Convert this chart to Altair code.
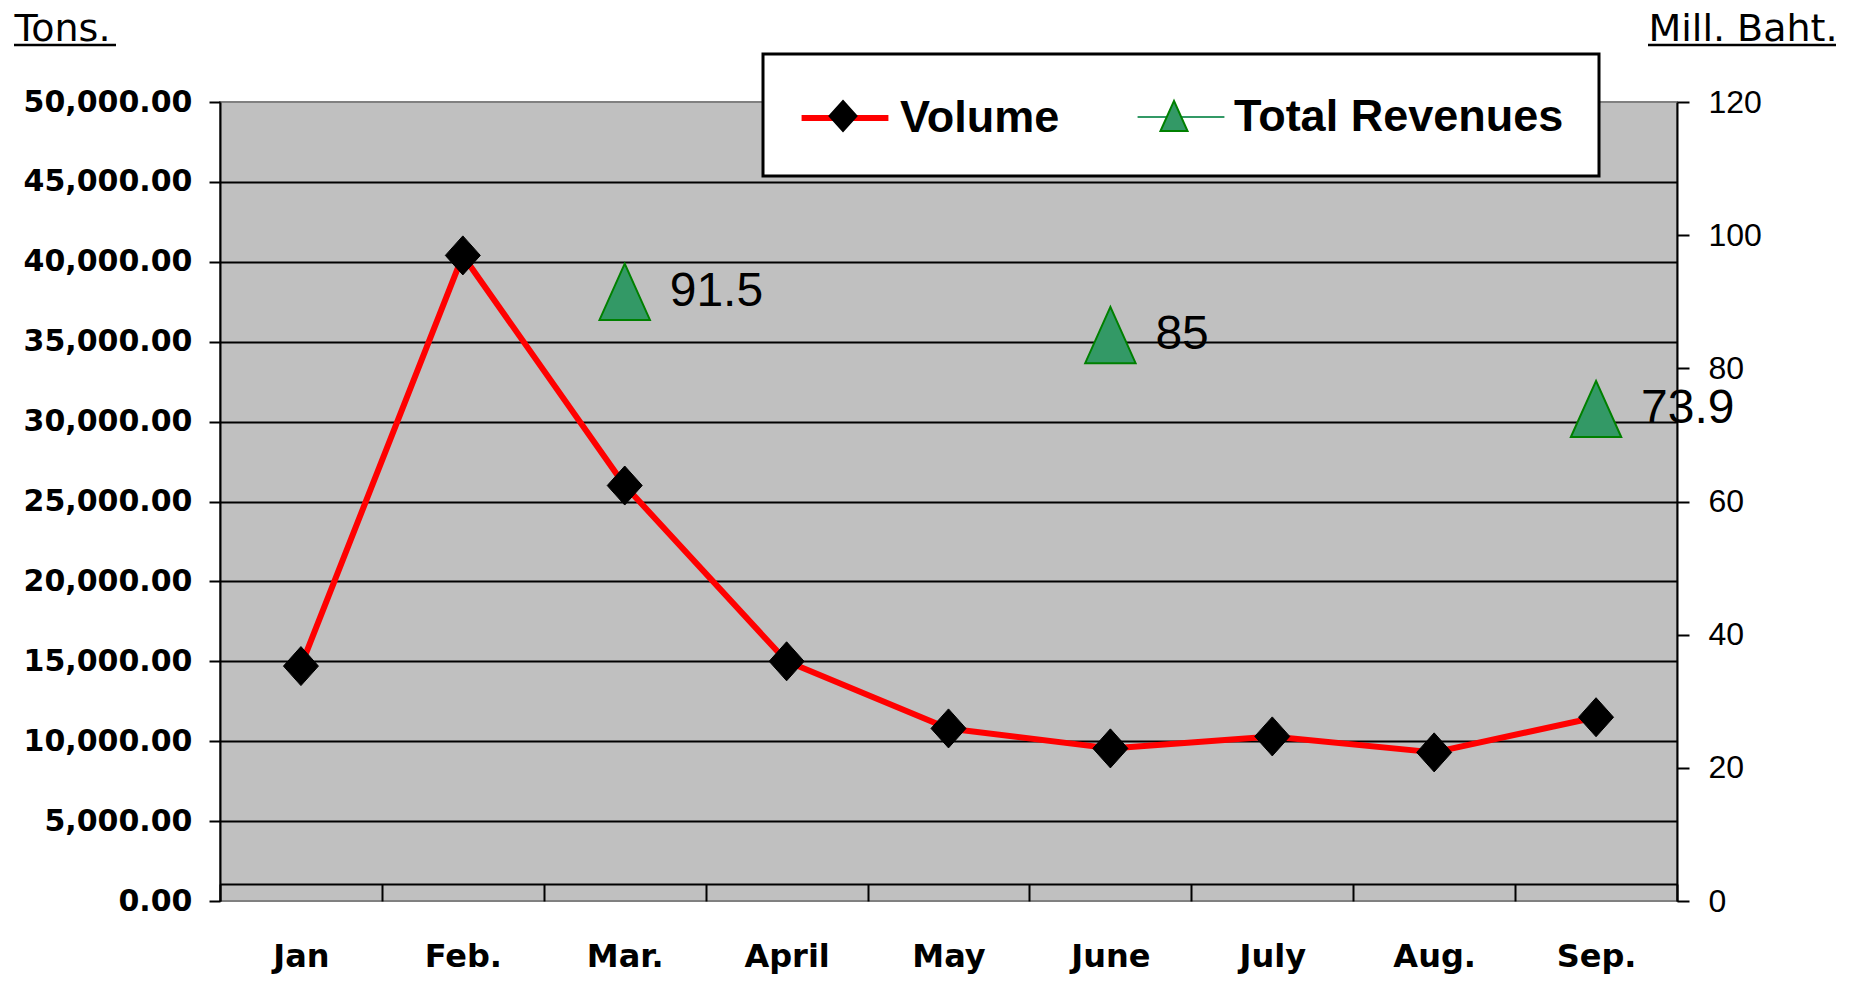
import altair as alt
import pandas as pd

# ---- data ----
months = ["Jan", "Feb.", "Mar.", "April", "May", "June", "July", "Aug.", "Sep."]
volume = [14700, 40400, 26000, 15000, 10800, 9550, 10300, 9300, 11500]
rev_months = ["Mar.", "June", "Sep."]
revenue = [91.5, 85.0, 73.9]
left_ticks = list(range(0, 50001, 5000))
right_ticks = list(range(0, 121, 20))
series_names = ["Volume", "Total Revenues"]
series_keys = ["V", "R"]

vol_df = pd.DataFrame({"month": months, "volume": volume,
                       "series": series_names[0], "series2": series_keys[0]})
rev_df = pd.DataFrame({"month": rev_months, "revenue": revenue,
                       "series2": series_keys[1]})

DIAMOND = "M0,-0.58L0.52,0L0,0.58L-0.52,0Z"
TRIANGLE = "M0,-0.58L0.52,0.58L-0.52,0.58Z"
LINE_SYMBOL = "M-1.67,0H1.67"

x_axis = alt.Axis(title=None, orient="bottom", offset=-17, tickBand="extent",
                  tickSize=17, tickWidth=2, tickColor="black",
                  domainColor="black", domainWidth=2, grid=False,
                  labelFont="DejaVu Sans", labelFontWeight="bold", labelFontSize=32,
                  labelColor="black", labelPadding=40, labelAngle=0)
x = alt.X("month:N", sort=months,
          scale=alt.Scale(type="band", domain=months, paddingInner=0, paddingOuter=0),
          axis=x_axis)

left_axis = alt.Axis(values=left_ticks, format=",.2f", orient="left",
                     labelFont="DejaVu Sans", labelFontWeight="bold", labelFontSize=30,
                     labelColor="black", labelPadding=17,
                     tickSize=11, tickWidth=2, tickColor="black",
                     domainColor="black", domainWidth=2,
                     grid=True, gridColor="black", gridWidth=2,
                     gridOpacity={"condition": {"test": "datum.value === 0 || datum.value === 50000",
                                                "value": 0}, "value": 1},
                     title="Tons.", titleAngle=0, titleX=-206, titleY=-62,
                     titleAlign="left", titleBaseline="alphabetic",
                     titleFont="DejaVu Sans", titleFontSize=38, titleFontWeight="normal",
                     titleColor="black")

right_axis = alt.Axis(values=right_ticks, orient="right", format="d",
                      labelFont="Liberation Sans", labelFontSize=32, labelColor="black",
                      labelPadding=19, tickSize=12, tickWidth=2, tickColor="black",
                      domainColor="black", domainWidth=2, grid=False,
                      title="Mill. Baht.", titleAngle=0, titleX=-29, titleY=-62,
                      titleAlign="left", titleBaseline="alphabetic",
                      titleFont="DejaVu Sans", titleFontSize=38, titleFontWeight="normal",
                      titleColor="black", titleLimit=1000)

legend_common = dict(orient="none", legendX=543, legendY=-48, direction="horizontal",
                     title=None, symbolSize=2704, labelFont="Liberation Sans",
                     labelFontSize=45, labelFontWeight="bold", labelColor="black",
                     labelOffset=26, columnPadding=73, padding=35, symbolOffset=18,
                     labelLimit=1000, symbolStrokeWidth=2)

leg1 = alt.Legend(**legend_common, strokeColor="black", fillColor="white",
                  symbolType=LINE_SYMBOL)
leg2 = alt.Legend(**legend_common, labelOpacity=0, symbolOpacity=1,
                  labelExpr="datum.value === 'V' ? 'Volume' : 'Total Revenues'")

fill_enc = alt.Fill("series2:N", scale=alt.Scale(domain=series_keys, range=["black", "#339966"]),
                    legend=leg2)
stroke_enc = alt.Stroke("series2:N", scale=alt.Scale(domain=series_keys, range=["black", "#008000"]),
                        legend=leg2)
shape_enc = alt.Shape("series2:N", scale=alt.Scale(domain=series_keys, range=[DIAMOND, TRIANGLE]),
                      legend=leg2)

y_left = alt.Y("volume:Q", scale=alt.Scale(domain=[0, 50000], nice=False, zero=True), axis=left_axis)
y_right = alt.Y("revenue:Q", scale=alt.Scale(domain=[0, 120], nice=False, zero=True), axis=right_axis)

line = alt.Chart(vol_df).mark_line(strokeCap="round", strokeJoin="round").encode(
    x=x, y=y_left,
    color=alt.Color("series:N", scale=alt.Scale(domain=series_names, range=["#FF0000", "#339966"]),
                    legend=leg1),
    strokeWidth=alt.StrokeWidth("series:N", scale=alt.Scale(domain=series_names, range=[6, 2], padding=0),
                                legend=leg1),
)
diamonds = alt.Chart(vol_df).mark_point(filled=True, size=4530, strokeWidth=1, opacity=1).encode(
    x=x, y=y_left, fill=fill_enc, stroke=stroke_enc, shape=shape_enc)

tri = alt.Chart(rev_df).mark_point(filled=True, size=9400, strokeWidth=2, opacity=1).encode(
    x=x, y=y_right, fill=fill_enc, stroke=stroke_enc, shape=shape_enc)
txt = alt.Chart(rev_df).mark_text(align="left", baseline="middle", dx=45,
                                  font="Liberation Sans", fontSize=48, color="black").encode(
    x=x, y=y_right, text=alt.Text("revenue:Q", format="~g"))

left = alt.layer(line, diamonds)
right = alt.layer(tri, txt)

ul_df = pd.DataFrame({"k": [0]})
ul1 = alt.Chart(ul_df).mark_rule(color="black", strokeWidth=2.5).encode(
    x=alt.value(-206), x2=alt.value(-104), y=alt.value(-57))
ul2 = alt.Chart(ul_df).mark_rule(color="black", strokeWidth=2.5).encode(
    x=alt.value(1428), x2=alt.value(1616), y=alt.value(-57))

chart = alt.layer(left, right, ul1, ul2).resolve_scale(y="independent").properties(
    width=1457, height=799,
    autosize=alt.AutoSizeParams(type="none"),
    padding={"left": 212, "top": 94, "right": 166, "bottom": 73},
    background="white",
).configure_view(fill="#C0C0C0", stroke="#808080", strokeWidth=2
).configure_legend(strokeWidth=3)

chart.save("out.html", embed_options={"renderer": "svg", "actions": False})
